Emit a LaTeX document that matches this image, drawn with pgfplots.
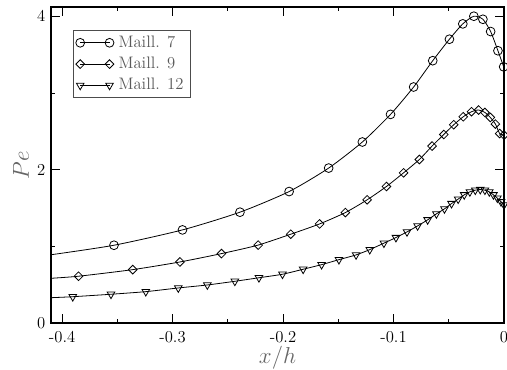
\documentclass[border=0pt]{standalone}
\usepackage{pgfplots}
\pgfplotsset{compat=1.18}
\begin{document}
\fontsize{12}{14}\selectfont
\begin{tikzpicture}
\begin{axis}[
  scale only axis,
  width=339.75pt, height=237pt,
  xmin=-0.41, xmax=0, ymin=0, ymax=4.12,
  xtick={-0.4,-0.3,-0.2,-0.1,0},
  xticklabels={-0.4,-0.3,-0.2,-0.1,0},
  minor xtick={-0.35,-0.25,-0.15,-0.05},
  ytick={0,2,4}, minor ytick={1,3},
  tick align=inside,
  major tick length=6.5pt, minor tick length=3pt,
  tick style={black, line width=0.6pt},
  axis line style={line width=0.8pt},
  ticklabel style={font=\fontsize{12.5}{14}\selectfont, text=black},
  /pgf/number format/assume math mode=true,
  xticklabel shift=2pt,
  xlabel={$x/h$}, ylabel={$Pe$},
  label style={font=\fontsize{16}{17}\selectfont, text=black!60},
  xlabel style={yshift=6pt},
  ylabel style={yshift=-2pt},
  legend style={at={(0.048,0.927)}, anchor=north west, draw=black!70, line width=0.6pt,
    font=\fontsize{12.5}{14}\selectfont, text=black!65, row sep=0.5pt, inner xsep=2pt, inner ysep=1.5pt,
    nodes={inner xsep=3.5pt, inner ysep=2.5pt}},
  legend cell align=left,
  every axis plot/.append style={line width=0.6pt, black},
]
% line curves
\addplot[smooth, tension=0.4, forget plot] coordinates {
(-0.41,0.89)(-0.353,1.014)(-0.291,1.214)(-0.239,1.445)(-0.1945,1.714)(-0.1587,2.02)(-0.1282,2.36)(-0.1027,2.72)(-0.0818,3.077)(-0.0645,3.42)(-0.0494,3.70)(-0.0373,3.90)(-0.0273,4.00)(-0.0191,3.96)(-0.0121,3.80)(-0.0055,3.55)(-0.0003,3.34)};
\addplot[smooth, tension=0.4, forget plot] coordinates {
(-0.41,0.583)(-0.3851,0.61)(-0.336,0.696)(-0.2933,0.796)(-0.2557,0.905)(-0.2225,1.016)(-0.193,1.158)(-0.1669,1.292)(-0.1436,1.44)(-0.1239,1.606)(-0.1064,1.78)(-0.0909,1.958)(-0.0766,2.132)(-0.0651,2.307)(-0.0545,2.458)(-0.0455,2.585)(-0.0369,2.689)(-0.0294,2.755)(-0.023,2.777)(-0.0173,2.745)(-0.0124,2.68)(-0.0078,2.594)(-0.0039,2.47)(0.0,2.45)};
\addplot[smooth, tension=0.4, forget plot] coordinates {
(-0.41,0.33)(-0.3903,0.343)(-0.3557,0.375)(-0.3242,0.409)(-0.2948,0.457)(-0.2685,0.496)(-0.2436,0.544)(-0.2218,0.590)(-0.2005,0.636)(-0.1818,0.701)(-0.1651,0.761)(-0.1494,0.826)(-0.1339,0.888)(-0.1215,0.957)(-0.1087,1.041)(-0.0978,1.114)(-0.0878,1.188)(-0.0782,1.266)(-0.0691,1.345)(-0.0612,1.423)(-0.0539,1.488)(-0.0475,1.557)(-0.0415,1.615)(-0.036,1.671)(-0.0309,1.710)(-0.0260,1.732)(-0.0215,1.740)(-0.0173,1.732)(-0.0133,1.710)(-0.0096,1.671)(-0.006,1.628)(-0.0027,1.580)(0.0,1.540)};
% markers
\addplot[only marks, mark=o, mark size=3.3pt, forget plot] coordinates {
(-0.353,1.014)(-0.291,1.214)(-0.239,1.445)(-0.1945,1.714)(-0.1587,2.02)(-0.1282,2.36)(-0.1027,2.72)(-0.0818,3.077)(-0.0645,3.42)(-0.0494,3.70)(-0.0373,3.90)(-0.0273,4.00)(-0.0191,3.96)(-0.0121,3.80)(-0.0055,3.55)(-0.0003,3.34)};
\addplot[only marks, mark=square, mark size=2.3pt, mark options={rotate=45}, forget plot] coordinates {
(-0.3851,0.61)(-0.336,0.696)(-0.2933,0.796)(-0.2557,0.905)(-0.2225,1.016)(-0.193,1.158)(-0.1669,1.292)(-0.1436,1.44)(-0.1239,1.606)(-0.1064,1.78)(-0.0909,1.958)(-0.0766,2.132)(-0.0651,2.307)(-0.0545,2.458)(-0.0455,2.585)(-0.0369,2.689)(-0.0294,2.755)(-0.023,2.777)(-0.0173,2.745)(-0.0124,2.68)(-0.0078,2.594)(-0.0039,2.47)(0.0,2.45)};
\addplot[only marks, mark=triangle, mark size=3.3pt, mark options={rotate=180}, forget plot] coordinates {
(-0.3903,0.343)(-0.3557,0.375)(-0.3242,0.409)(-0.2948,0.457)(-0.2685,0.496)(-0.2436,0.544)(-0.2218,0.590)(-0.2005,0.636)(-0.1818,0.701)(-0.1651,0.761)(-0.1494,0.826)(-0.1339,0.888)(-0.1215,0.957)(-0.1087,1.041)(-0.0978,1.114)(-0.0878,1.188)(-0.0782,1.266)(-0.0691,1.345)(-0.0612,1.423)(-0.0539,1.488)(-0.0475,1.557)(-0.0415,1.615)(-0.036,1.671)(-0.0309,1.710)(-0.0260,1.732)(-0.0215,1.740)(-0.0173,1.732)(-0.0133,1.710)(-0.0096,1.671)(-0.006,1.628)(-0.0027,1.580)(0.0,1.540)};
\addlegendimage{black, line width=0.6pt, mark=o, mark size=3.3pt, legend image code/.code={\draw[mark repeat=2, mark phase=1] plot coordinates {(0pt,0pt)(11pt,0pt)(22pt,0pt)};}}
\addlegendentry{Maill. 7}
\addlegendimage{black, line width=0.6pt, mark=square, mark size=2.3pt, mark options={rotate=45}, legend image code/.code={\draw[mark repeat=2, mark phase=1] plot coordinates {(0pt,0pt)(11pt,0pt)(22pt,0pt)};}}
\addlegendentry{Maill. 9}
\addlegendimage{black, line width=0.6pt, mark=triangle, mark size=3.3pt, mark options={rotate=180}, legend image code/.code={\draw[mark repeat=2, mark phase=1] plot coordinates {(0pt,0pt)(11pt,0pt)(22pt,0pt)};}}
\addlegendentry{Maill. 12}
\end{axis}
\pgfresetboundingbox
\path[use as bounding box] ([xshift=-38.25pt, yshift=-34.5pt]current axis.south west) rectangle ([xshift=2.25pt, yshift=5.25pt]current axis.north east);
\end{tikzpicture}
\end{document}
